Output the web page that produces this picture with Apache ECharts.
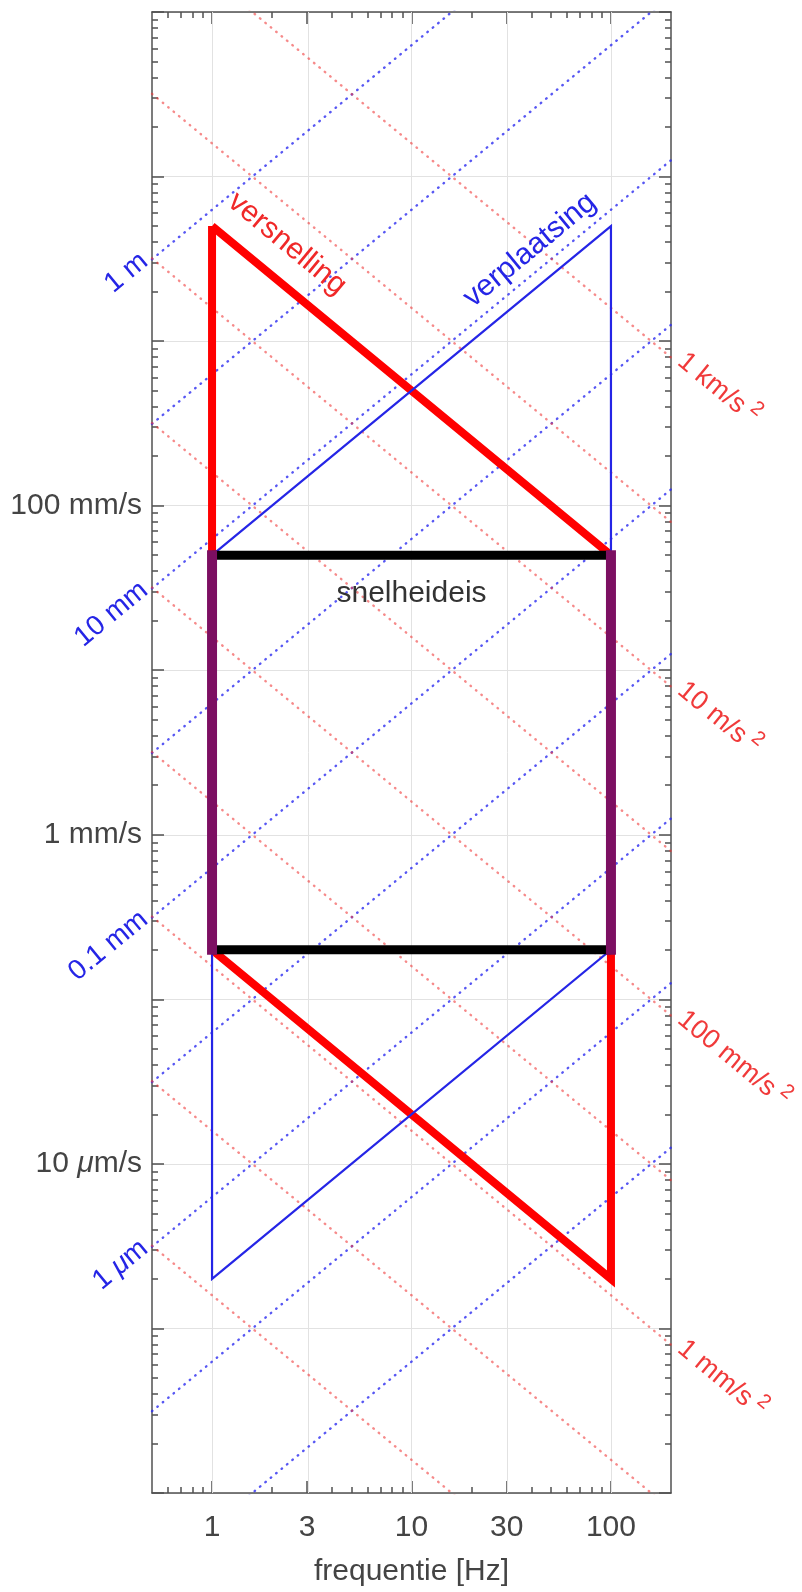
<!DOCTYPE html>
<html>
<head>
<meta charset="utf-8">
<title>snelheideis</title>
<script src="https://cdn.jsdelivr.net/npm/echarts@6/dist/echarts.min.js"></script>
<style>
  html, body { margin: 0; padding: 0; background: #fff; }
  #main { width: 802px; height: 1592px; }
</style>
</head>
<body>
<div id="main"></div>
<script>
// assen: frequentie [Hz] en snelheid [mm/s], beide logaritmisch
var freqRange = [0.5, 200];
var velRange = [1e-4, 1e5];
var freqTicks = [1, 3, 10, 30, 100];
var freqMinor = [0.6, 0.7, 0.8, 0.9, 2, 4, 5, 6, 7, 8, 9, 20, 40, 50, 60, 70, 80, 90];
var velLabelValues = [100, 1, 0.01];
var velLabelText = ['100 mm/s', '1 mm/s', '10 {mu|\u03bc}m/s'];

// hulplijnen: constante verplaatsing [m] en constante versnelling [m/s2]
var dispLevels = [1, 0.1, 0.01, 1e-3, 1e-4, 1e-5, 1e-6, 1e-7, 1e-8];
var accLevels = [1e3, 1e2, 10, 1, 0.1, 0.01, 1e-3, 1e-4, 1e-5];
var dispLabelLevels = [1, 0.01, 1e-4, 1e-6];
var dispLabelText = ['1 m', '10 mm', '0.1 mm', '1 {mu|\u03bc}m'];
var accLabelLevels = [1e3, 10, 0.1, 1e-3];
var accLabelText = ['1 km/s', '10 m/s', '100 mm/s', '1 mm/s'];
var accLabelSup = '2';

// eisen [Hz, mm/s]
var accelF = [1, 100, 100, 1, 1];
var accelV = [5000, 50, 0.002, 0.2, 5000];
var dispF = [1, 100, 100, 1, 1];
var dispV = [50, 5000, 0.2, 0.002, 50];
var boxF = [1, 100];
var boxV = [0.2, 50];

var lg = Math.log10;
var xMin = lg(freqRange[0]), xMax = lg(freqRange[1]);
var yMin = lg(velRange[0]), yMax = lg(velRange[1]);

var velMinor = [];
for (var k = yMin; k < yMax; k++) {
  for (var m = 2; m <= 9; m++) velMinor.push(lg(m) + k);
}

var axisCol = '#505050';
var gridCol = '#e2e2e2';
var textCol = '#444';
var red = '#ff0000';
var blue = '#2525e6';
var font = '"Liberation Sans", Arial, Helvetica, sans-serif';
var fs = 30;     // as- en naamlabels
var fsIso = 28;  // labels van de stippellijnen

function xAxisCfg(pos, ticks, len, main) {
  return {
    type: 'value', position: pos, min: xMin, max: xMax,
    axisLine: { show: main, onZero: false, lineStyle: { color: axisCol, width: 1.5 } },
    axisTick: { show: true, inside: true, length: len, customValues: ticks.map(lg), lineStyle: { color: axisCol, width: 1.5 } },
    axisLabel: { show: false },
    splitLine: { show: false }
  };
}
function yAxisCfg(pos, len, main, minor) {
  var ax = {
    type: 'value', position: pos, min: yMin, max: yMax, interval: 1,
    axisLine: { show: main, onZero: false, lineStyle: { color: axisCol, width: 1.5 } },
    axisTick: { show: true, inside: true, length: len, lineStyle: { color: axisCol, width: 1.5 } },
    axisLabel: { show: false },
    splitLine: { show: false }
  };
  if (minor) ax.axisTick.customValues = velMinor;
  return ax;
}

var xBottom = xAxisCfg('bottom', freqTicks, 12, true);
xBottom.axisLabel = {
  show: true, customValues: freqTicks.map(lg), margin: 20,
  fontSize: fs, fontFamily: font, color: textCol,
  formatter: function (v) { return String(Math.round(Math.pow(10, v))); }
};
xBottom.name = 'frequentie [Hz]';
xBottom.nameLocation = 'middle';
xBottom.nameGap = 64;
xBottom.nameTextStyle = { fontSize: fs, fontFamily: font, color: textCol };

var yLeft = yAxisCfg('left', 12, true, false);
yLeft.axisLabel = {
  show: true, margin: 10, fontSize: fs, fontFamily: font, color: textCol,
  rich: { mu: { fontSize: fs, fontFamily: font, fontStyle: 'italic', color: textCol } },
  formatter: function (v) {
    for (var i = 0; i < velLabelValues.length; i++) {
      if (Math.round(lg(velLabelValues[i])) === Math.round(v)) return velLabelText[i];
    }
    return '';
  }
};
yLeft.splitLine = { show: true, lineStyle: { color: gridCol, width: 1 } };

function pts(fArr, vArr) {
  return fArr.map(function (f, i) { return [lg(f), lg(vArr[i])]; });
}

var series = [];
// verticale rasterlijnen bij de gelabelde frequenties
series.push({
  type: 'line', data: [], silent: true, z: 1,
  markLine: {
    z: 1, silent: true, symbol: ['none', 'none'], label: { show: false },
    lineStyle: { color: gridCol, width: 1, type: 'solid' },
    data: freqTicks.map(function (f) { return { xAxis: lg(f) }; })
  }
});
var dots = [0.5, 6.5];
// stippellijnen verplaatsing: v = 2 pi f d
dispLevels.forEach(function (d) {
  series.push({
    type: 'line', silent: true, showSymbol: false, z: 2, clip: true,
    data: freqRange.map(function (f) { return [lg(f), lg(2 * Math.PI * f * d * 1000)]; }),
    lineStyle: { color: 'rgba(45,45,240,0.8)', width: 2.4, type: dots, cap: 'round' }
  });
});
// stippellijnen versnelling: v = a / (2 pi f)
accLevels.forEach(function (a) {
  series.push({
    type: 'line', silent: true, showSymbol: false, z: 2, clip: true,
    data: freqRange.map(function (f) { return [lg(f), lg(a / (2 * Math.PI * f) * 1000)]; }),
    lineStyle: { color: 'rgba(240,60,60,0.6)', width: 2.4, type: dots, cap: 'round' }
  });
});
series.push({
  name: 'versnelling', type: 'line', silent: true, showSymbol: false, z: 3,
  data: pts(accelF, accelV),
  lineStyle: { color: red, width: 8, join: 'miter', miterLimit: 20 }
});
series.push({
  name: 'verplaatsing', type: 'line', silent: true, showSymbol: false, z: 4,
  data: pts(dispF, dispV),
  lineStyle: { color: blue, width: 2.2, join: 'miter' }
});
boxV.forEach(function (v) {
  series.push({
    type: 'line', silent: true, showSymbol: false, z: 5,
    data: pts(boxF, [v, v]),
    lineStyle: { color: '#000', width: 9, cap: 'butt' }
  });
});
boxF.forEach(function (f) {
  series.push({
    type: 'line', silent: true, showSymbol: false, z: 6,
    data: pts([f, f], boxV),
    lineStyle: { color: '#7c0f62', width: 10, cap: 'square' }
  });
});

var chart = echarts.init(document.getElementById('main'));
chart.setOption({
  animation: false,
  backgroundColor: '#fff',
  grid: { left: 152, top: 12, width: 519, height: 1481, containLabel: false },
  xAxis: [
    xBottom,
    xAxisCfg('bottom', freqMinor, 6, false),
    xAxisCfg('top', freqTicks, 12, true),
    xAxisCfg('top', freqMinor, 6, false)
  ],
  yAxis: [
    yLeft,
    yAxisCfg('left', 6, false, true),
    yAxisCfg('right', 12, true, false),
    yAxisCfg('right', 6, false, true)
  ],
  series: series
});

// labels langs de lijnen
function px(f, v) {
  return chart.convertToPixel({ xAxisIndex: 0, yAxisIndex: 0 }, [lg(f), lg(v)]);
}
var q0 = px(1, 1), q1 = px(10, 10);
var ang = Math.atan2(q0[1] - q1[1], q1[0] - q0[0]);
var c = Math.cos(ang), s = Math.sin(ang);
var off = 6;
var graphics = [];
var measure = document.createElement('canvas').getContext('2d');

function textEl(x, y, rot, text, col, align, size) {
  var f = size + 'px ' + font;
  return {
    type: 'text', x: x, y: y, rotation: rot, silent: true, z: 100,
    style: {
      text: text, fill: col, font: f,
      align: align, verticalAlign: 'middle', textAlign: align, textVerticalAlign: 'middle',
      rich: { mu: { font: 'italic ' + f, fill: col } }
    }
  };
}

dispLabelLevels.forEach(function (d, i) {
  var f0 = freqRange[0];
  var p = px(f0, 2 * Math.PI * f0 * d * 1000);
  var gap = 5;
  var x = p[0] - c * gap - s * off;
  var y = p[1] + s * gap - c * off;
  graphics.push(textEl(x, y, ang, dispLabelText[i], blue, 'right', fsIso));
});
accLabelLevels.forEach(function (a, i) {
  var f1 = freqRange[1];
  var p = px(f1, a / (2 * Math.PI * f1) * 1000);
  var gap = 8;
  var x = p[0] + c * gap + s * off;
  var y = p[1] + s * gap - c * off;
  var col = '#f03a3a';
  graphics.push(textEl(x, y, -ang, accLabelText[i], col, 'left', fsIso - 1));
  // exponent: iets verder langs de tekst en omhoog geschoven
  measure.font = (fsIso - 1) + 'px ' + font;
  var w = measure.measureText(accLabelText[i]).width + 6;
  var raise = 9;
  graphics.push(textEl(x + c * w + s * raise, y + s * w - c * raise, -ang, accLabelSup, col, 'left', 20));
});

// namen van de eisen
var pr = px(1.85, 5000 / 1.85);
graphics.push(textEl(pr[0] + s * 34, pr[1] - c * 34, -ang, 'versnelling', '#f02828', 'center', fs));
var pb = px(50, 50 * 50);
graphics.push(textEl(pb[0] - s * 33, pb[1] - c * 33, ang, 'verplaatsing', blue, 'center', fs));
var pc = px(10, 29);
graphics.push(textEl(pc[0], pc[1], 0, 'snelheideis', '#333', 'center', fs));

chart.setOption({ graphic: graphics });
</script>
</body>
</html>
